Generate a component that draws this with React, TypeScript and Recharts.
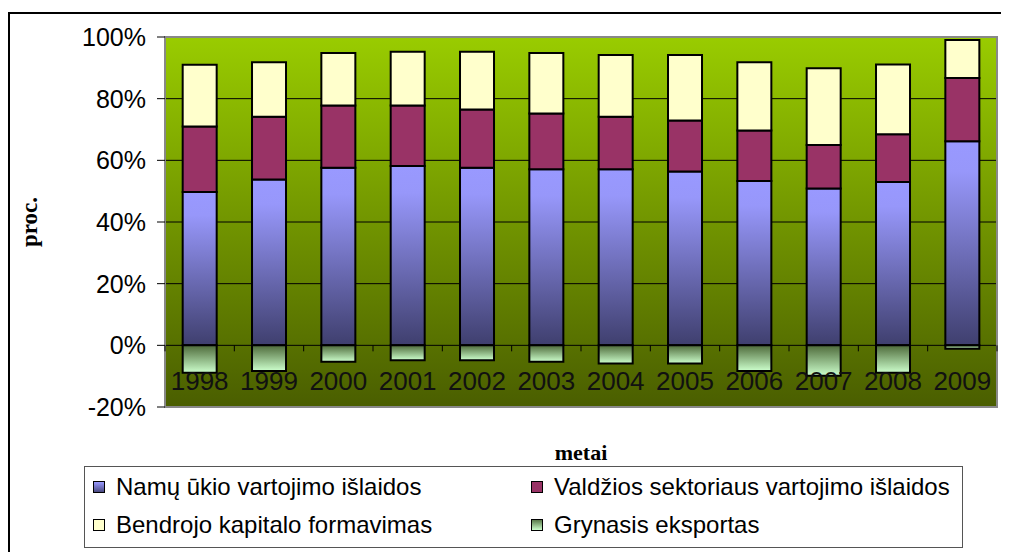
import {
  Bar,
  BarChart,
  CartesianGrid,
  Label,
  Legend,
  ReferenceArea,
  XAxis,
  YAxis,
} from "recharts";

const years = ["1998", "1999", "2000", "2001", "2002", "2003", "2004", "2005", "2006", "2007", "2008", "2009"];
const household = [49.7, 53.8, 57.6, 58.2, 57.6, 57.1, 57.1, 56.4, 53.3, 50.9, 53.0, 66.2];
const government = [21.3, 20.3, 20.2, 19.6, 18.9, 18.1, 17.0, 16.5, 16.4, 14.1, 15.5, 20.5];
const capital = [20.0, 17.7, 17.0, 17.4, 18.7, 19.6, 20.1, 21.3, 22.1, 24.9, 22.6, 12.3];
const netExport = [-8.9, -8.3, -5.3, -4.8, -4.8, -5.3, -5.9, -5.9, -8.3, -9.9, -8.9, -1.1];
const yTicks = [-20, 0, 20, 40, 60, 80, 100];

const series = [
  { key: "household", name: "Namų ūkio vartojimo išlaidos", fill: "url(#hhFill)", swatch: "linear-gradient(#9999ff, #4a4a80)" },
  { key: "government", name: "Valdžios sektoriaus vartojimo išlaidos", fill: "#993366", swatch: "#993366" },
  { key: "capital", name: "Bendrojo kapitalo formavimas", fill: "#ffffcc", swatch: "#ffffcc" },
  { key: "netExport", name: "Grynasis eksportas", fill: "url(#neFill)", swatch: "linear-gradient(#5a7a4a, #ccffcc)" },
];

const data = years.map((year, i) => ({
  year,
  household: household[i],
  government: government[i],
  capital: capital[i],
  netExport: netExport[i],
}));

const W = 1001;
const H = 544;
const PLOT_TOP = 29;
const PLOT_H = 370;
const PLOT_LEFT = 157;
const PLOT_W = 832;
const Y_MIN = -20;
const Y_MAX = 100;
const ZERO_Y = PLOT_TOP + (PLOT_H * Y_MAX) / (Y_MAX - Y_MIN);
const STEP = PLOT_W / years.length;

const sans = "Arial, 'Liberation Sans', sans-serif";
const serif = "'Times New Roman', 'Liberation Serif', serif";

function YearTick(props: any) {
  const { x, payload, index } = props;
  return (
    <g>
      <line x1={x - STEP / 2} x2={x - STEP / 2} y1={ZERO_Y} y2={ZERO_Y + 6} stroke="#000" />
      {index === years.length - 1 && (
        <line x1={x + STEP / 2} x2={x + STEP / 2} y1={ZERO_Y} y2={ZERO_Y + 6} stroke="#000" />
      )}
      <text x={x} y={ZERO_Y + 45} textAnchor="middle" fontSize={26} fontFamily={sans} fill="#111">
        {payload.value}
      </text>
    </g>
  );
}

function ProcLabel(props: any) {
  const vb = props.viewBox || { x: 0, y: 0, width: 0, height: 0 };
  const cx = vb.x + 14;
  const cy = vb.y + vb.height / 2;
  return (
    <text
      x={cx}
      y={cy}
      transform={`rotate(-90 ${cx} ${cy})`}
      textAnchor="middle"
      dominantBaseline="central"
      fontSize={23}
      fontWeight="bold"
      fontFamily={serif}
      fill="#000"
    >
      proc.
    </text>
  );
}

function LegendBox() {
  return (
    <div
      style={{
        boxSizing: "border-box",
        width: 879,
        height: 82,
        border: "1.5px solid #555",
        background: "#fff",
        display: "grid",
        gridTemplateColumns: "438px auto",
        gridAutoRows: "38px",
        padding: "1px 0 0 8px",
        fontFamily: sans,
        fontSize: 24,
        color: "#000",
      }}
    >
      {series.map((s) => (
        <div key={s.key} style={{ display: "flex", alignItems: "center", whiteSpace: "nowrap" }}>
          <span
            style={{
              display: "inline-block",
              width: 10,
              height: 10,
              border: "1px solid #000",
              background: s.swatch,
              marginRight: 11,
            }}
          />
          {s.name}
        </div>
      ))}
    </div>
  );
}

export default function App() {
  return (
    <div style={{ position: "relative", width: W, height: H, overflow: "hidden" }}>
      <div
        style={{
          position: "absolute",
          left: 0,
          top: 4,
          width: 1200,
          height: 800,
          border: "2px solid #000",
        }}
      />
      <div style={{ position: "absolute", left: 0, top: 0 }}>
        <BarChart
          width={W}
          height={H}
          data={data}
          stackOffset="sign"
          barCategoryGap="25.5%"
          margin={{ top: PLOT_TOP, right: W - PLOT_LEFT - PLOT_W, left: 7, bottom: H - PLOT_TOP - PLOT_H - 60 }}
        >
          <defs>
            <linearGradient id="bgFill" x1="0" y1="0" x2="0" y2="1">
              <stop offset="0%" stopColor="#99cc00" />
              <stop offset="100%" stopColor="#4a5e00" />
            </linearGradient>
            <linearGradient id="hhFill" x1="0" y1="0" x2="0" y2="1">
              <stop offset="0%" stopColor="#9999ff" />
              <stop offset="15%" stopColor="#9797fa" />
              <stop offset="100%" stopColor="#3f3f6e" />
            </linearGradient>
            <linearGradient id="neFill" x1="0" y1="0" x2="0" y2="1">
              <stop offset="0%" stopColor="#4e6a3a" />
              <stop offset="100%" stopColor="#ccffcc" />
            </linearGradient>
          </defs>
          <CartesianGrid vertical={false} stroke="#000" fill="url(#bgFill)" fillOpacity={1} />
          <XAxis
            dataKey="year"
            height={60}
            axisLine={false}
            tickLine={false}
            interval={0}
            tick={<YearTick />}
          >
            <Label
              value="metai"
              position="insideBottom"
              offset={7}
              style={{ fontFamily: serif, fontWeight: "bold", fontSize: 22, fill: "#000" }}
            />
          </XAxis>
          <YAxis
            width={PLOT_LEFT - 7}
            domain={[Y_MIN, Y_MAX]}
            ticks={yTicks}
            allowDataOverflow
            tickFormatter={(v: number) => `${v}%`}
            axisLine={false}
            tickLine={{ stroke: "#000" }}
            tickSize={8}
            tickMargin={11}
            tick={{ fontSize: 25, fontFamily: sans, fill: "#000" }}
          >
            <Label content={<ProcLabel />} />
          </YAxis>
          <ReferenceArea y1={Y_MIN} y2={Y_MAX} fill="none" stroke="#888" strokeWidth={2} ifOverflow="visible" />
          {series.map((s) => (
            <Bar
              key={s.key}
              dataKey={s.key}
              name={s.name}
              stackId="a"
              fill={s.fill}
              stroke="#000"
              strokeWidth={2}
              isAnimationActive={false}
            />
          ))}
          <Legend
            layout="vertical"
            align="center"
            verticalAlign="middle"
            wrapperStyle={{ left: 76, top: 458, width: 879 }}
            content={<LegendBox />}
          />
        </BarChart>
      </div>
    </div>
  );
}
